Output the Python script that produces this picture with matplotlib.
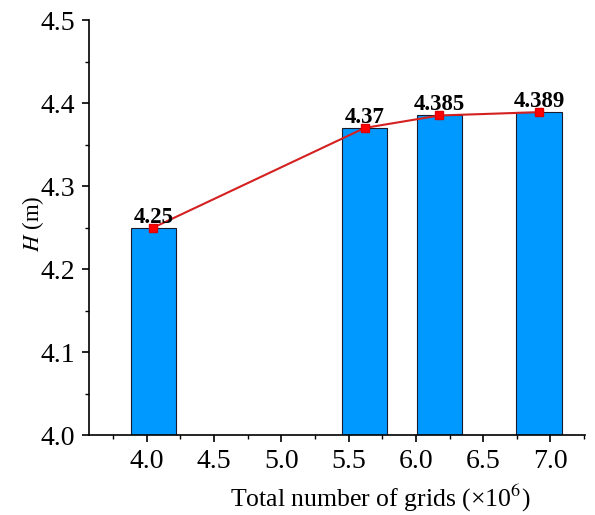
import matplotlib.pyplot as plt
from matplotlib.ticker import MultipleLocator

# grid counts (x10^6) and head values
grids = [4.05, 5.62, 6.175, 6.915]
head = [4.25, 4.37, 4.385, 4.389]
labels = ['4.25', '4.37', '4.385', '4.389']

plt.rcParams['font.family'] = ['Liberation Serif', 'DejaVu Serif']
plt.rcParams['mathtext.fontset'] = 'stix'

fig = plt.figure(figsize=(5.95, 5.15), dpi=100)
ax = fig.add_axes([0.1496, 0.1553, 0.8334, 0.8058])

ax.bar(grids, [h - 4.0 for h in head], bottom=4.0, width=0.335,
       color='#0099FF', edgecolor='#1a1a2e', linewidth=0.8, zorder=2)
ax.plot(grids, head, color='#D42020', linewidth=1.5, marker='s',
        markersize=5.5, markerfacecolor='#FF0000', markeredgecolor='#E00000', zorder=3)

for x, y, t in zip(grids, head, labels):
    ax.annotate(t, (x, y), xytext=(0, 0), textcoords='offset points',
                ha='center', va='bottom', fontsize=16.5, fontweight='bold', zorder=4)

ax.set_xlim(3.571, 7.256)
ax.set_ylim(4.0, 4.5)
ax.xaxis.set_major_locator(MultipleLocator(0.5))
ax.xaxis.set_minor_locator(MultipleLocator(0.25))
ax.yaxis.set_major_locator(MultipleLocator(0.1))
ax.yaxis.set_minor_locator(MultipleLocator(0.05))
ax.set_xticks([4.0, 4.5, 5.0, 5.5, 6.0, 6.5, 7.0])
ax.set_xticklabels(['4.0', '4.5', '5.0', '5.5', '6.0', '6.5', '7.0'])

ax.spines['top'].set_visible(False)
ax.spines['right'].set_visible(False)
for s in ['left', 'bottom']:
    ax.spines[s].set_linewidth(1.2)
ax.tick_params(which='major', direction='out', length=5, width=1.2, labelsize=20, pad=5)
ax.tick_params(which='minor', direction='out', length=3, width=1.0)

ax.set_xlabel('Total number of grids (×10$^{6}$)', fontsize=18.5)
ax.xaxis.set_label_coords(0.587, -0.115)
ax.set_ylabel('$H$ (m)', fontsize=16.5)
ax.yaxis.set_label_coords(-0.086, 0.51)

fig.savefig('out.png', dpi=100)
